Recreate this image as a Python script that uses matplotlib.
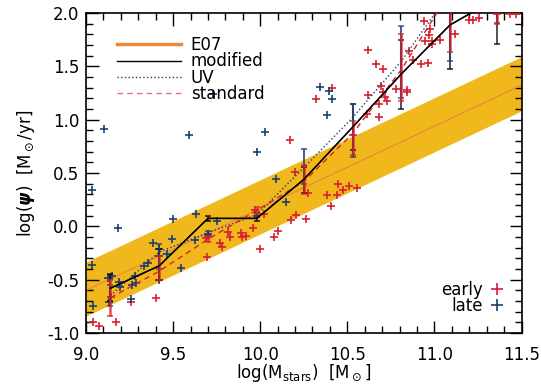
import numpy as np
import matplotlib
matplotlib.use("Agg")
import matplotlib.pyplot as plt
from matplotlib.lines import Line2D
from matplotlib.ticker import MultipleLocator, FormatStrFormatter

plt.rcParams['font.family'] = ['DejaVu Sans']
plt.rcParams['mathtext.fontset'] = 'dejavusans'

# --- Elbaz et al. (2007) relation: log SFR = a + b (logM - 11), with scatter band
e07_norm = np.log10(8.7)
e07_slope = 0.77
e07_lo = np.log10(5.0)
e07_hi = np.log10(16.1)

# --- binned mean SFR for the three SFR estimators
bin_mass = [9.14, 9.42, 9.70, 9.98, 10.25, 10.53, 10.81, 11.09, 11.36]

mod_val = [-0.58, -0.37, 0.075, 0.075, 0.44, 0.93, 1.43, 1.89, 2.14]
mod_lo = [-0.70, -0.50, 0.055, 0.055, 0.315, 0.72, 1.10, 1.48, 1.715]
mod_hi = [-0.447, -0.21, 0.095, 0.095, 0.56, 1.15, 1.75, 2.30, 2.50]

uv_val = [-0.65, -0.24, -0.06, 0.11, 0.55, 1.02, 1.55, 2.20, 2.05]
uv_lo = [-0.75, -0.40, -0.08, 0.09, 0.40, 0.653, 1.20, 1.55, 1.91]
uv_hi = [-0.55, -0.166, -0.04, 0.13, 0.724, 1.149, 1.88, 2.40, 2.20]

std_val = [-0.67, -0.42, -0.12, 0.15, 0.42, 0.87, 1.47, 2.20, 2.30]
std_lo = [-0.838, -0.50, -0.15, 0.12, 0.30, 0.668, 1.177, 1.637, 1.90]
std_hi = [-0.503, -0.28, -0.09, 0.18, 0.575, 0.987, 1.80, 2.40, 2.50]

# --- individual galaxies
late_mass = [9.105, 9.59, 9.034, 9.73, 9.98, 10.03, 10.343, 10.395, 10.414, 10.385,
             10.089, 10.146, 9.50, 9.63, 9.182, 9.034, 9.383, 9.494, 9.358, 9.335,
             9.417, 9.42, 9.465, 9.545, 9.283, 9.287, 9.264, 9.191, 9.197, 9.126,
             9.147, 9.134, 9.042, 9.258, 9.626, 9.75, 9.421, 9.70]
late_sfr = [0.909, 0.853, 0.34, 1.243, 0.694, 0.887, 1.31, 1.27, 1.196, 1.043,
            0.44, 0.231, 0.072, 0.118, -0.013, -0.363, -0.159, -0.119, -0.347, -0.369,
            -0.213, -0.276, -0.262, -0.394, -0.463, -0.529, -0.55, -0.519, -0.566, -0.482,
            -0.466, -0.712, -0.744, -0.681, -0.128, 0.052, -0.503, -0.07]

early_mass = [9.038, 9.076, 9.172, 9.258, 9.40, 9.144, 9.693, 9.689, 9.70,
              9.77, 9.78, 9.817, 9.827, 9.888, 9.897, 9.917, 9.957, 9.972, 10.0, 10.02,
              10.081, 10.104, 10.177, 10.206, 10.263, 10.276, 10.385, 10.44, 10.405,
              10.445, 10.477, 10.512, 10.554, 10.20, 10.171, 10.32, 10.41,
              10.535, 10.617, 10.692, 10.703, 10.716, 10.73, 10.682, 10.615, 10.682,
              10.663, 10.703, 10.62, 10.78, 10.84, 10.854, 10.879, 10.921, 10.962,
              10.845, 10.942, 10.975, 10.969, 10.946, 10.988, 11.032, 10.984, 11.118,
              11.20, 11.22, 11.258, 11.357, 11.434, 11.47]
early_sfr = [-0.90, -0.932, -0.90, -0.712, -0.675, -0.66, -0.29, -0.112, -0.09,
             -0.159, -0.19, -0.051, -0.100, -0.066, -0.097, -0.091, -0.019, 0.153, -0.21, 0.115,
             -0.100, -0.041, 0.059, 0.106, 0.065, 0.316, 0.294, 0.294, 0.193,
             0.394, 0.34, 0.378, 0.362, 0.507, 0.815, 1.193, 1.30,
             0.856, 1.23, 1.315, 1.262, 1.215, 1.177, 1.146, 1.053, 1.022,
             1.52, 1.474, 1.65, 1.293, 1.262, 1.646, 1.565, 1.52, 1.528,
             1.277, 1.924, 1.849, 1.793, 1.737, 1.74, 1.752, 1.715, 1.80,
             1.94, 1.94, 1.95, 1.99, 1.99, 1.99]

RED = '#d8202f'
BLUE = '#1d3f6e'
GOLD = '#f0b81c'
ORANGE = '#e98a3a'

fig = plt.figure(figsize=(5.41, 3.87), dpi=100)
ax = fig.add_axes([0.159, 0.1395, 0.805, 0.8265])

xm = np.linspace(9.0, 11.5, 200)
ax.fill_between(xm, e07_lo + e07_slope * (xm - 11), e07_hi + e07_slope * (xm - 11),
                color=GOLD, lw=0, zorder=1)
ax.plot(xm, e07_norm + e07_slope * (xm - 11), color=ORANGE, lw=0.9, zorder=2)

ax.plot(early_mass, early_sfr, '+', color=RED, ms=6, mew=1.2, zorder=3)
ax.plot(late_mass, late_sfr, '+', color=BLUE, ms=6, mew=1.2, zorder=3)


def draw_bins(val, lo, hi, color, ls, lw, elw, z):
    val = np.asarray(val)
    yerr = [val - np.asarray(lo), np.asarray(hi) - val]
    ax.errorbar(bin_mass, val, yerr=yerr, fmt='none', ecolor=color, elinewidth=elw,
                capsize=2.5, capthick=1.2, alpha=0.8, zorder=z)
    ax.plot(bin_mass, val, ls=ls, color=color, lw=lw, zorder=z + 0.5)


draw_bins(mod_val, mod_lo, mod_hi, 'black', '-', 1.0, 1.2, 4)
draw_bins(uv_val, uv_lo, uv_hi, BLUE, ':', 1.0, 1.5, 5)
draw_bins(std_val, std_lo, std_hi, RED, (0, (4, 3)), 1.0, 1.8, 6)
ax.plot(bin_mass, mod_val, '-', color='black', lw=1.0, zorder=7)

ax.set_xlim(9.0, 11.5)
ax.set_ylim(-1.0, 2.0)
ax.xaxis.set_major_locator(MultipleLocator(0.5))
ax.xaxis.set_minor_locator(MultipleLocator(0.1))
ax.yaxis.set_major_locator(MultipleLocator(0.5))
ax.yaxis.set_minor_locator(MultipleLocator(0.1))
ax.xaxis.set_major_formatter(FormatStrFormatter('%.1f'))
ax.yaxis.set_major_formatter(FormatStrFormatter('%.1f'))
ax.tick_params(which='both', direction='in', top=True, right=True, labelsize=12, width=1)
ax.tick_params(which='major', length=9)
ax.tick_params(which='minor', length=5)
ax.tick_params(axis='x', which='major', pad=9)
ax.tick_params(axis='y', which='major', pad=5)
for s in ax.spines.values():
    s.set_linewidth(1.2)

ax.set_xlabel(r'log(M$_{\rm stars}$)  [M$_\odot$]', fontsize=12, labelpad=-1)
ax.set_ylabel(r'log($\boldsymbol{\psi}$)  [M$_\odot$/yr]', fontsize=12, labelpad=7)

h1 = [Line2D([], [], color=ORANGE, lw=2.5),
      Line2D([], [], color='black', lw=1.0),
      Line2D([], [], color=BLUE, lw=1.0, ls=':'),
      Line2D([], [], color='#e8707a', lw=1.0, ls=(0, (4, 3)))]
leg1 = ax.legend(h1, ['E07', 'modified', 'UV', 'standard'], loc='upper left',
                 frameon=False, fontsize=12, handlelength=3.8, handletextpad=0.6,
                 labelspacing=-0.1, borderaxespad=0.3, bbox_to_anchor=(0.045, 0.965))
ax.add_artist(leg1)

h2 = [Line2D([], [], color=RED, marker='+', ls='none', ms=9, mew=1.2),
      Line2D([], [], color=BLUE, marker='+', ls='none', ms=9, mew=1.2)]
ax.legend(h2, ['early', 'late'], loc='lower right', frameon=False, fontsize=12,
          markerfirst=False, handlelength=0.8, handletextpad=0.4, labelspacing=-0.1,
          borderaxespad=0.3, bbox_to_anchor=(0.985, 0.02))

fig.savefig('out.png', dpi=100)
